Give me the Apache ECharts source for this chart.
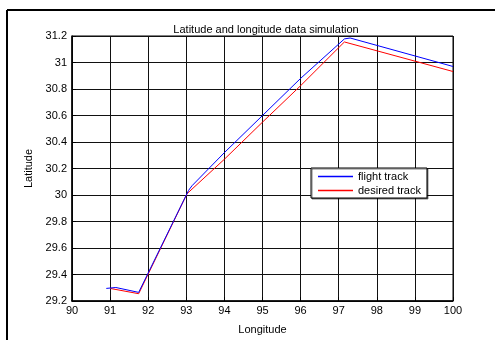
<!DOCTYPE html>
<html>
<head>
<meta charset="utf-8">
<script src="https://cdn.jsdelivr.net/npm/echarts@6/dist/echarts.min.js"></script>
<style>
  html, body { margin: 0; padding: 0; background: #fff; }
  #chart { width: 495px; height: 340px; }
</style>
</head>
<body>
<div id="chart"></div>
<script>
// 数据：经纬度 [longitude, latitude]
const flightTrack = [
  [90.9, 29.295], [91.15, 29.302], [91.75, 29.265], [93.06, 30.035],
  [93.15, 30.07], [94, 30.32], [95, 30.6], [96, 30.88],
  [97.15, 31.178], [97.3, 31.185], [100, 30.97]
];
const desiredTrack = [
  [91.0, 29.295], [91.75, 29.255], [93.02, 30.01], [94, 30.27],
  [95, 30.55], [96, 30.825], [97.15, 31.155], [100, 30.932]
];
const seriesNames = ['flight track', 'desired track'];
const seriesColors = ['#0000ff', '#ff0000'];
const xTicks = [90, 91, 92, 93, 94, 95, 96, 97, 98, 99, 100];
const yTicks = [29.2, 29.4, 29.6, 29.8, 30, 30.2, 30.4, 30.6, 30.8, 31, 31.2];

const font = 'Liberation Sans, Arial, sans-serif';
const chart = echarts.init(document.getElementById('chart'), null, { renderer: 'canvas' });

const valueAxis = (ticks, interval, extra) => Object.assign({
  type: 'value',
  min: ticks[0],
  max: ticks[ticks.length - 1],
  interval: interval,
  axisLine: { show: true, onZero: false, lineStyle: { color: '#000', width: 1.5 } },
  axisTick: { show: true, inside: true, length: 4, lineStyle: { color: '#000' } },
  splitLine: { show: true, lineStyle: { color: '#111', width: 1 } },
  axisLabel: { color: '#000', fontFamily: font, fontSize: 11 },
  nameTextStyle: { color: '#000', fontFamily: font, fontSize: 11 }
}, extra);

chart.setOption({
  animation: false,
  backgroundColor: '#fff',
  title: {
    text: 'Latitude and longitude data simulation',
    left: 261,
    top: 19,
    textAlign: 'center',
    textStyle: { color: '#000', fontFamily: font, fontSize: 11, fontWeight: 'normal' }
  },
  grid: { left: 72, right: 42, top: 36, bottom: 35, show: true, borderColor: '#000', borderWidth: 1 },
  legend: {
    data: seriesNames.map((n, i) => ({ name: n, itemStyle: { color: seriesColors[i] } })),
    orient: 'vertical',
    left: 311,
    top: 168,
    icon: 'rect',
    itemWidth: 35,
    itemHeight: 1.5,
    itemGap: 3,
    padding: [3, 6, 2, 7],
    backgroundColor: '#fff',
    borderColor: '#000',
    borderWidth: 1,
    shadowColor: 'rgba(0,0,0,0.5)',
    shadowOffsetX: 1,
    shadowOffsetY: 1,
    textStyle: { color: '#000', fontFamily: font, fontSize: 11 }
  },
  xAxis: valueAxis(xTicks, 1, {
    name: 'Longitude',
    nameLocation: 'middle',
    nameGap: 23,
    axisLabel: { color: '#000', fontFamily: font, fontSize: 11, margin: 4 }
  }),
  yAxis: valueAxis(yTicks, 0.2, {
    name: 'Latitude',
    nameLocation: 'middle',
    nameGap: 36,
    axisLabel: { color: '#000', fontFamily: font, fontSize: 11, margin: 5 }
  }),
  series: [
    {
      name: seriesNames[0],
      type: 'line',
      data: flightTrack,
      symbol: 'none',
      lineStyle: { color: seriesColors[0], width: 1 },
      itemStyle: { color: seriesColors[0] },
      z: 3
    },
    {
      name: seriesNames[1],
      type: 'line',
      data: desiredTrack,
      symbol: 'none',
      lineStyle: { color: seriesColors[1], width: 1 },
      itemStyle: { color: seriesColors[1] },
      z: 2
    }
  ],
  graphic: [
    { type: 'line', shape: { x1: 7, y1: 10, x2: 495, y2: 10 }, style: { stroke: '#000', lineWidth: 2 } },
    { type: 'line', shape: { x1: 7, y1: 10, x2: 7, y2: 340 }, style: { stroke: '#000', lineWidth: 2 } }
  ]
});
</script>
</body>
</html>
